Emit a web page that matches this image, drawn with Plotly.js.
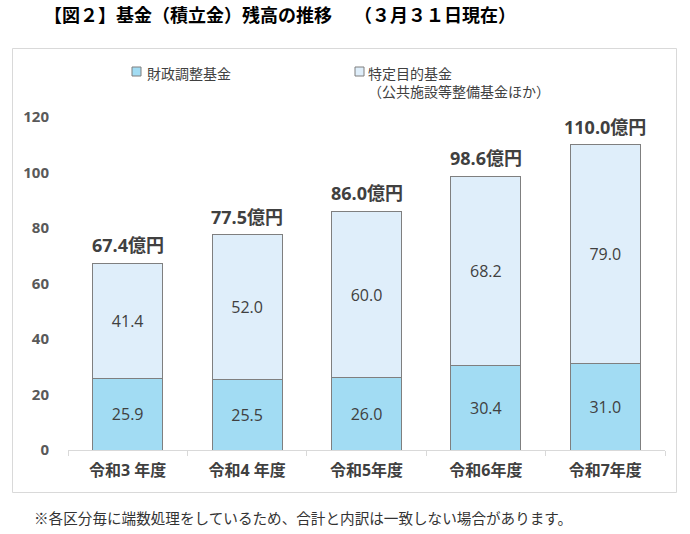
<!DOCTYPE html>
<html>
<head>
<meta charset="utf-8">
<script src="https://cdn.plot.ly/plotly-3.0.1.min.js"></script>
<style>html,body{margin:0;padding:0;background:#fff;}#chart{width:690px;height:534px;}</style>
</head>
<body>
<div id="chart"></div>
<script>
const categories = ['令和3 年度', '令和4 年度', '令和5年度', '令和6年度', '令和7年度'];
const fiscalAdjustment = [25.9, 25.5, 26.0, 30.4, 31.0];
const specificPurpose = [41.4, 52.0, 60.0, 68.2, 79.0];
const totals = [67.4, 77.5, 86.0, 98.6, 110.0];
const seriesNames = ['財政調整基金', '特定目的基金'];
const legendLabels = ['財政調整基金', '特定目的基金<br>（公共施設等整備基金ほか）'];
const yTicks = [0, 20, 40, 60, 80, 100, 120];
const titleText = '【図２】基金（積立金）残高の推移　 （３月３１日現在）';
const noteText = '※各区分毎に端数処理をしているため、合計と内訳は一致しない場合があります。';

const FONT = 'Open Sans, "Noto Sans CJK JP", sans-serif';
const colors = ['#a2dcf3', '#dfeefa'];

const traces = [
  {
    type: 'bar', name: seriesNames[0], x: categories, y: fiscalAdjustment,
    marker: {color: colors[0], line: {color: '#7f7f7f', width: 1}},
    texttemplate: '%{y:.1f}', textposition: 'inside', insidetextanchor: 'middle',
    textfont: {family: FONT, size: 16, color: '#404040'}, textangle: 0,
    hoverinfo: 'skip', showlegend: false
  },
  {
    type: 'bar', name: seriesNames[1], x: categories, y: specificPurpose,
    marker: {color: colors[1], line: {color: '#7f7f7f', width: 1}},
    texttemplate: '%{y:.1f}', textposition: 'inside', insidetextanchor: 'middle',
    textfont: {family: FONT, size: 16, color: '#404040'}, textangle: 0,
    hoverinfo: 'skip', showlegend: false
  }
];

const annotations = totals.map((t, i) => ({
  x: categories[i], y: t, xref: 'x', yref: 'y',
  text: t.toFixed(1) + '億円', showarrow: false,
  yanchor: 'bottom', yshift: 4,
  font: {family: FONT, size: 18, color: '#404040', weight: 'bold'}
}));

// legend (drawn as annotations + squares)
const pw = 597, ph = 333, pl = 68, pb = 450;
const px = v => (v - pl) / pw;
const py = v => (pb - v) / ph;
const legendX = [145, 366];
const squareX = [132, 355];
legendLabels.forEach((lbl, i) => {
  annotations.push({
    xref: 'paper', yref: 'paper', x: px(legendX[i]), y: py(62), xanchor: 'left', yanchor: 'top',
    text: lbl, showarrow: false, align: 'left',
    font: {family: FONT, size: 14, color: '#404040'}
  });
});
annotations.push({
  xref: 'paper', yref: 'paper', x: px(32), y: py(517), xanchor: 'left', yanchor: 'middle',
  text: noteText, showarrow: false,
  font: {family: '"Noto Sans CJK JP", sans-serif', size: 14.6, color: '#333333'}
});

const shapes = squareX.map((sx, i) => ({
  type: 'rect', xref: 'paper', yref: 'paper',
  x0: px(sx), x1: px(sx + 9), y0: py(67), y1: py(76),
  fillcolor: colors[i], line: {color: '#7f7f7f', width: 1}
}));
shapes.push({
  type: 'rect', xref: 'paper', yref: 'paper', layer: 'below',
  x0: px(12.5), x1: px(676.5), y0: py(492.5), y1: py(48.5),
  fillcolor: 'rgba(0,0,0,0)', line: {color: '#d9d9d9', width: 1}
});

const layout = {
  width: 690, height: 534,
  margin: {l: 68, r: 25, t: 117, b: 84},
  paper_bgcolor: '#ffffff', plot_bgcolor: '#ffffff',
  barmode: 'stack', bargap: 0.414,
  showlegend: false,
  title: {
    text: titleText, xref: 'container', yref: 'container',
    x: 44 / 690, xanchor: 'left', y: 1 - 16 / 534, yanchor: 'middle',
    font: {family: '"Noto Sans CJK JP", sans-serif', size: 18, color: '#000000', weight: 'bold'}
  },
  xaxis: {
    type: 'category', showline: true, linecolor: '#d9d9d9', linewidth: 1,
    ticks: 'outside', tickson: 'boundaries', ticklen: 5, tickcolor: '#d9d9d9',
    showgrid: false, zeroline: false, ticklabelstandoff: 6,
    tickfont: {family: FONT, size: 16, color: '#404040', weight: 'bold'}
  },
  yaxis: {
    range: [0, 120], tickvals: yTicks, showgrid: false, zeroline: false, showline: false,
    ticks: '', ticklabelstandoff: 18,
    tickfont: {family: FONT, size: 15, color: '#595959', weight: 'bold'}
  },
  annotations: annotations,
  shapes: shapes
};

Plotly.newPlot('chart', traces, layout, {staticPlot: true, displayModeBar: false});
</script>
</body>
</html>
